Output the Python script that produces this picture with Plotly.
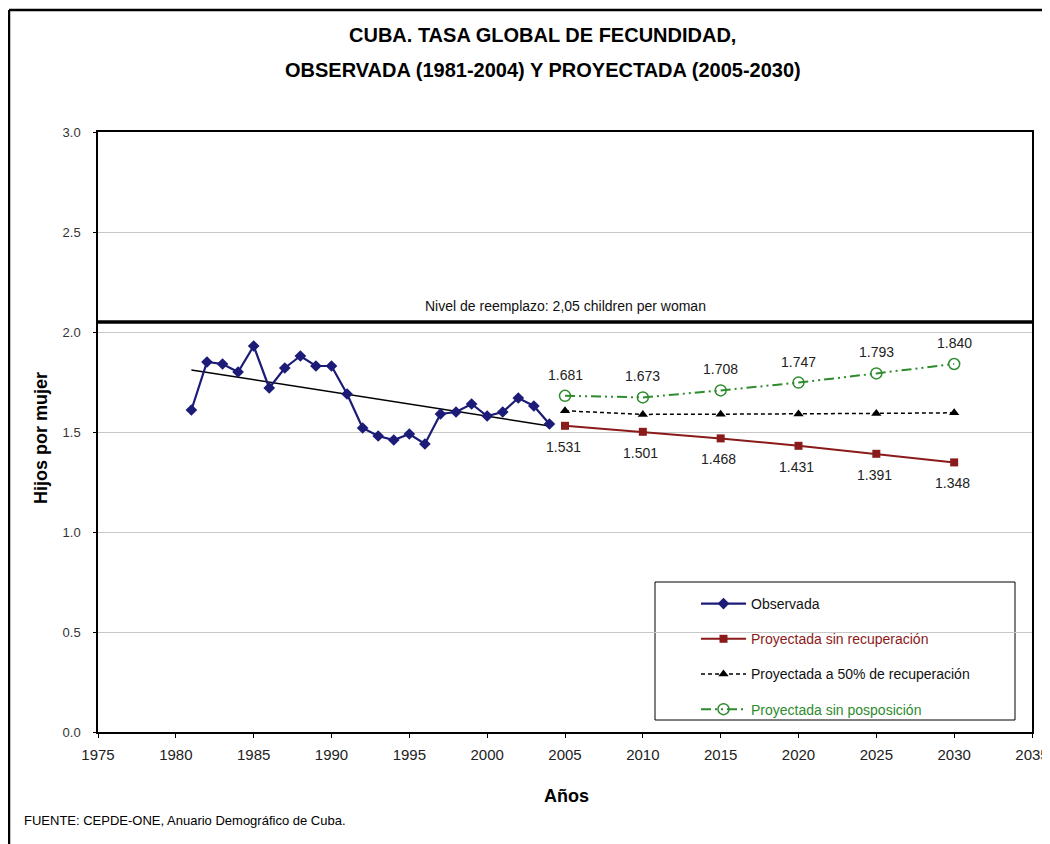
import plotly.graph_objects as go

# ---- data ----
obs_years = list(range(1981, 2005))
obs_vals = [1.61, 1.85, 1.84, 1.80, 1.93, 1.72, 1.82, 1.88, 1.83, 1.83, 1.69, 1.52,
            1.48, 1.46, 1.49, 1.44, 1.59, 1.60, 1.64, 1.58, 1.60, 1.67, 1.63, 1.54]
trend_years = [1981, 2004]
trend_vals = [1.81, 1.53]
proj_years = [2005, 2010, 2015, 2020, 2025, 2030]
proj_sin_recup = [1.531, 1.501, 1.468, 1.431, 1.391, 1.348]
proj_50 = [1.606, 1.588, 1.589, 1.590, 1.593, 1.596]
proj_sin_pospo = [1.681, 1.673, 1.708, 1.747, 1.793, 1.840]
replacement_level = 2.05
x_range = [1975, 2035]
y_range = [0, 3]

FONT = "Arial, 'Liberation Sans', sans-serif"
NAVY = "#1c1c78"
RED = "#8b1a1a"
GREEN = "#2e8b2e"

fig = go.Figure()

fig.add_trace(go.Scatter(x=x_range, y=[replacement_level] * 2, mode="lines",
                         line=dict(color="black", width=3.5), showlegend=False,
                         hoverinfo="skip"))
fig.add_trace(go.Scatter(x=trend_years, y=trend_vals, mode="lines",
                         line=dict(color="black", width=1.5), showlegend=False))

fig.add_trace(go.Scatter(x=obs_years, y=obs_vals, mode="lines+markers", name="Observada",
                         line=dict(color=NAVY, width=2.2),
                         marker=dict(symbol="diamond", size=9, color=NAVY),
                         legendgroup="a"))
fig.add_trace(go.Scatter(x=proj_years, y=proj_sin_recup, mode="lines+markers",
                         name=f'<span style="color:{RED}">Proyectada sin recuperación</span>',
                         line=dict(color=RED, width=2),
                         marker=dict(symbol="square", size=8, color=RED),
                         legendgroup="b"))
fig.add_trace(go.Scatter(x=proj_years, y=proj_50, mode="lines+markers",
                         name="Proyectada a 50% de recuperación",
                         line=dict(color="black", width=1.5, dash="4px,3px"),
                         marker=dict(symbol="triangle-up", size=9, color="black"),
                         legendgroup="c"))
fig.add_trace(go.Scatter(x=proj_years, y=proj_sin_pospo, mode="lines+markers",
                         name=f'<span style="color:{GREEN}">Proyectada sin posposición</span>',
                         line=dict(color=GREEN, width=2, dash="10px,4px,2px,4px,2px,4px"),
                         marker=dict(symbol="circle-open", size=11, color=GREEN,
                                     line=dict(width=1.5, color=GREEN)),
                         legendgroup="d"))

annotations = []
for x, y in zip(proj_years, proj_sin_recup):
    annotations.append(dict(x=x, y=y, text=f"{y:.3f}", showarrow=False, yshift=-21,
                            xshift=-2, font=dict(family=FONT, size=14, color="#222")))
for x, y in zip(proj_years, proj_sin_pospo):
    annotations.append(dict(x=x, y=y, text=f"{y:.3f}", showarrow=False, yshift=21,
                            font=dict(family=FONT, size=14, color="#222")))
annotations.append(dict(x=2005, y=replacement_level, text="Nivel de reemplazo: 2,05 children per woman",
                        showarrow=False, yshift=16, font=dict(family=FONT, size=14, color="#111")))
annotations.append(dict(xref="paper", yref="paper", x=0.476, y=(724 - 27) / 600, xanchor="center",
                        yanchor="middle", text="<b>CUBA. TASA GLOBAL DE FECUNDIDAD,</b>",
                        showarrow=False, font=dict(family=FONT, size=20, color="black")))
annotations.append(dict(xref="paper", yref="paper", x=0.476, y=(724 - 62) / 600, xanchor="center",
                        yanchor="middle",
                        text="<b>OBSERVADA (1981-2004) Y PROYECTADA (2005-2030)</b>",
                        showarrow=False, font=dict(family=FONT, size=20, color="black")))
annotations.append(dict(xref="paper", yref="paper", x=(33 - 90) / 934, y=(724 - 430) / 600,
                        textangle=-90, xanchor="center", yanchor="middle",
                        text="<b>Hijos por mujer</b>", showarrow=False,
                        font=dict(family=FONT, size=18, color="black")))
annotations.append(dict(xref="paper", yref="paper", x=(558 - 90) / 934, y=(724 - 788) / 600,
                        xanchor="center", yanchor="middle",
                        text="<b>Años</b>", showarrow=False,
                        font=dict(family=FONT, size=18, color="black")))
annotations.append(dict(xref="paper", yref="paper", x=(14 - 90) / 934, y=(724 - 812) / 600,
                        xanchor="left", yanchor="middle",
                        text="FUENTE: CEPDE-ONE, Anuario Demográfico de Cuba.", showarrow=False,
                        font=dict(family=FONT, size=13, color="black")))

shapes = [
    dict(type="rect", xref="paper", yref="paper",
         x0=(647 - 90) / 934, x1=(1007 - 90) / 934, y0=(724 - 712) / 600, y1=(724 - 574) / 600,
         fillcolor="white", line=dict(color="black", width=1), layer="between"),
    dict(type="line", xref="paper", yref="paper", x0=(1 - 90) / 934, x1=1.1,
         y0=(724 - 2) / 600, y1=(724 - 2) / 600, line=dict(color="black", width=2.5), layer="above"),
    dict(type="line", xref="paper", yref="paper", x0=(1 - 90) / 934, x1=(1 - 90) / 934,
         y0=(724 - 2) / 600, y1=-0.3, line=dict(color="black", width=2.5), layer="above"),
]

fig.update_layout(
    width=1042, height=836,
    margin=dict(l=90, r=18, t=124, b=112, autoexpand=False),
    paper_bgcolor="white", plot_bgcolor="white",
    font=dict(family=FONT, size=13, color="#222"),
    annotations=annotations, shapes=shapes,
    legend=dict(x=(688 - 90) / 934, y=(724 - 580) / 600, xanchor="left", yanchor="top",
                bgcolor="rgba(0,0,0,0)", borderwidth=0,
                font=dict(family=FONT, size=14, color="#111"),
                traceorder="grouped", tracegroupgap=14, itemwidth=45),
    showlegend=True,
)
fig.update_xaxes(range=x_range, dtick=5, tick0=1975, showgrid=False, automargin=False,
                 showline=True, linecolor="black", linewidth=1.5, mirror=True,
                 ticks="outside", ticklen=4, tickcolor="black", ticklabelstandoff=4,
                 ticklabeloverflow="allow",
                 tickfont=dict(family=FONT, size=15, color="#222"), zeroline=False)
fig.update_yaxes(range=y_range, dtick=0.5, tickformat=".1f", showgrid=True, automargin=False,
                 gridcolor="#c8c8c8", gridwidth=1,
                 showline=True, linecolor="black", linewidth=1.5, mirror=True,
                 ticks="outside", ticklen=3, tickcolor="black", ticklabelstandoff=10,
                 tickfont=dict(family=FONT, size=13, color="#333"), zeroline=False)

fig.write_html("out.html")
